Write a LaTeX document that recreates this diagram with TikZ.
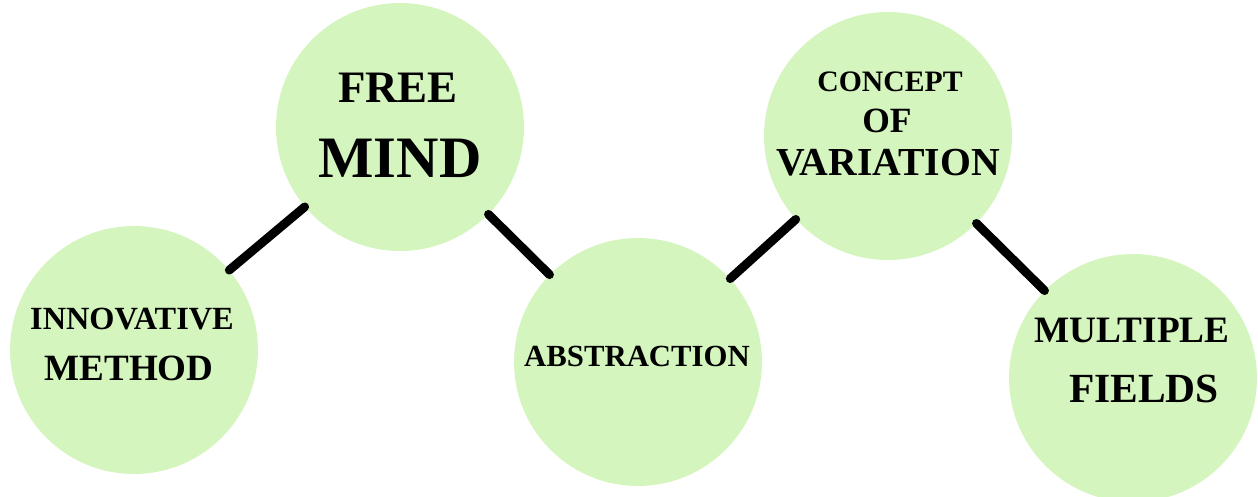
\documentclass[tikz,border=0pt]{standalone}
\usepackage{fontspec}
\setmainfont{Liberation Serif}
\usepackage{tikz}
\definecolor{bubblegreen}{RGB}{213,245,190}
\newcommand{\fsz}[1]{\bfseries\fontsize{#1}{#1}\selectfont}

\begin{document}
\begin{tikzpicture}[x=0.02cm,y=-0.02cm,
  bubble/.style={circle,fill=bubblegreen,draw=none,minimum size=4.96cm,inner sep=0pt},
  word/.style={anchor=base,inner sep=0pt,text=black},
  link/.style={line width=5pt,line cap=round}]
\useasboundingbox (0,0) rectangle (1258,497);

% the five bubbles
\node[bubble] (innov) at (134,350) {};
\node[bubble] (free)  at (400,127) {};
\node[bubble] (abstr) at (638,362) {};
\node[bubble] (conc)  at (888,136) {};
\node[bubble] (multi) at (1133,378) {};

\draw[link] (innov) -- (free);
\draw[link] (free) -- (abstr);
\draw[link] (abstr) -- (conc);
\draw[link] (conc) -- (multi);

% labels
\node[word,font=\fsz{18.4}] (innov-1) at (132,329) {INNOVATIVE};
\node[word,font=\fsz{21.1}] (innov-2) at (129,380) {METHOD};

\node[word,font=\fsz{25.6}] (free-1) at (398,102) {FREE};
\node[word,font=\fsz{33.4}] (free-2) at (400,177) {MIND};

\node[word,font=\fsz{17.5}] (abstr-1) at (637,366) {ABSTRACTION};

\node[word,font=\fsz{16.9}] (conc-1) at (890,91) {CONCEPT};
\node[word,font=\fsz{20.2}] (conc-2) at (887,132) {OF};
\node[word,font=\fsz{22.6}] (conc-3) at (888,175) {VARIATION};

\node[word,font=\fsz{21.2}] (multi-1) at (1132,342) {MULTIPLE};
\node[word,font=\fsz{23.6}] (multi-2) at (1144,402) {FIELDS};
\end{tikzpicture}
\end{document}
